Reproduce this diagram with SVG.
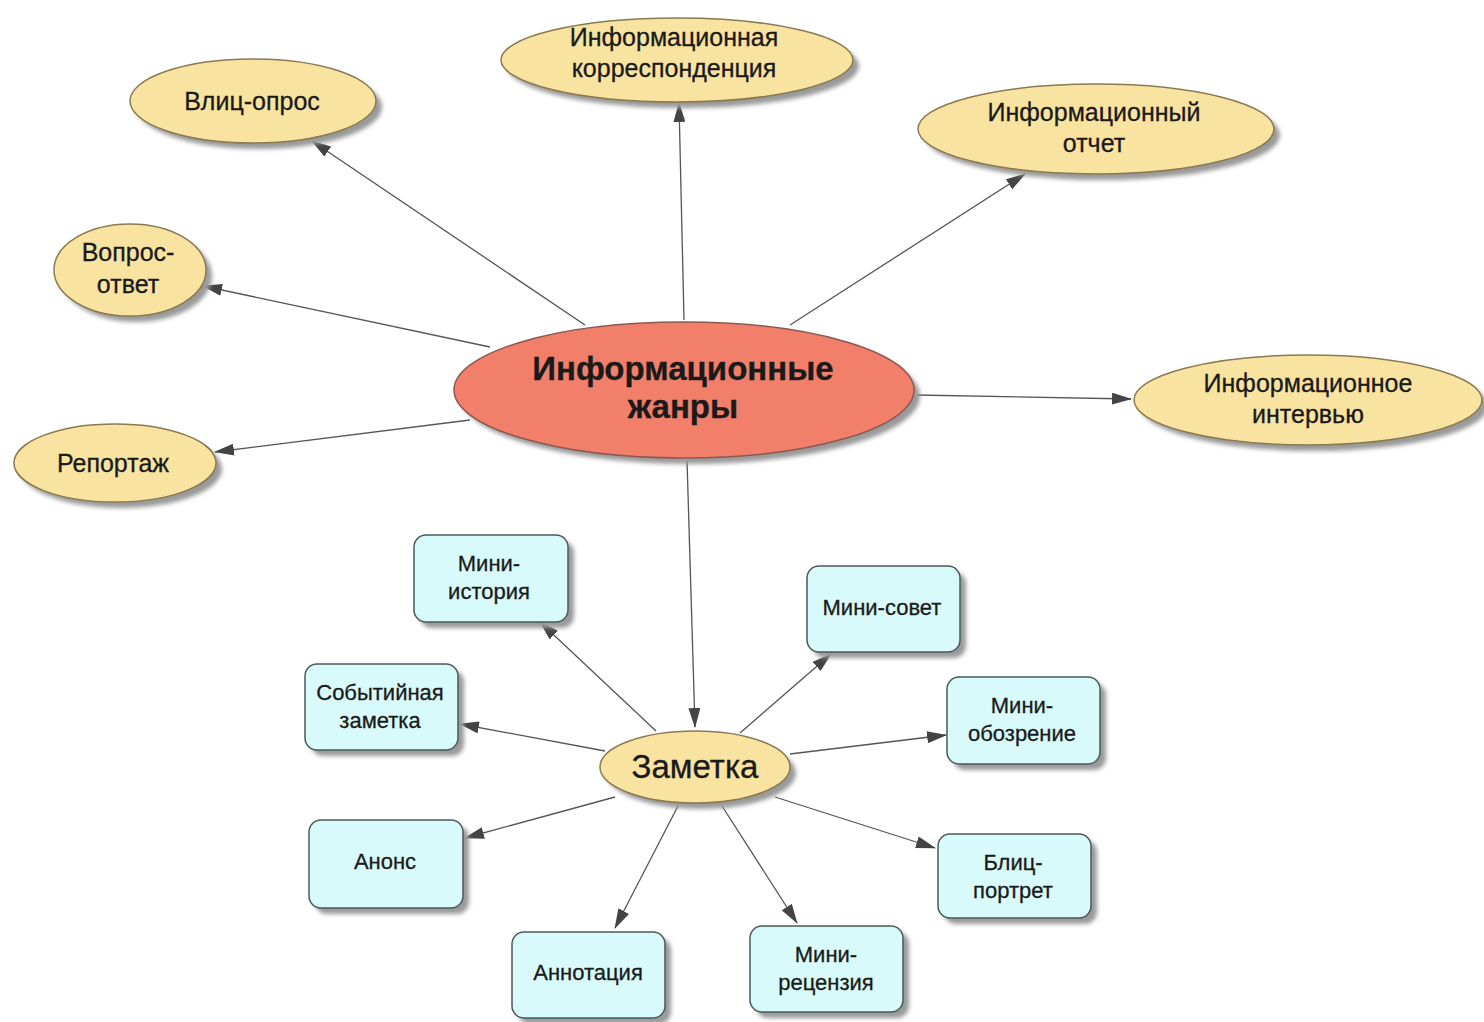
<svg xmlns="http://www.w3.org/2000/svg" width="1484" height="1022" viewBox="0 0 1484 1022">
<defs>
<marker id="ah" markerWidth="20" markerHeight="12" refX="19" refY="6" orient="auto" markerUnits="userSpaceOnUse">
<path d="M0,0 L20,6 L0,12 Z" fill="#444"/>
</marker>
<filter id="blur" x="-10%" y="-10%" width="130%" height="130%"><feGaussianBlur stdDeviation="2"/></filter>
</defs>
<style>
.y{fill:#f9e3a0;stroke:#8a7a50;stroke-width:1.5}
.c{fill:#f17f6a;stroke:#8a5a50;stroke-width:1.5}
.b{fill:#d9fafa;stroke:#4a5a5a;stroke-width:1.5}
.sh{fill:#9a9a9a;filter:url(#blur)}
.t{font-family:"Liberation Sans",Arial,sans-serif;fill:#1a1a1a;text-anchor:middle;stroke:#1a1a1a;stroke-width:0.3}
.t21{font-size:25px}
.t19{font-size:22px}
.conn line{stroke:#555;stroke-width:1.3;marker-end:url(#ah)}
</style>
<rect width="1484" height="1022" fill="#fff"/>
<g id="connectors" class="conn">
<line x1="585" y1="325" x2="312" y2="141"/>
<line x1="684" y1="320" x2="679" y2="103"/>
<line x1="790" y1="325" x2="1025" y2="174"/>
<line x1="490" y1="347" x2="203" y2="286"/>
<line x1="470" y1="420" x2="215" y2="452"/>
<line x1="915" y1="395" x2="1131" y2="399"/>
<line x1="687" y1="460" x2="695" y2="727"/>
<line x1="656" y1="731" x2="540" y2="622"/>
<line x1="740" y1="733" x2="831" y2="654"/>
<line x1="605" y1="751" x2="460" y2="724"/>
<line x1="790" y1="754" x2="946" y2="735"/>
<line x1="615" y1="797" x2="465" y2="838"/>
<line x1="775" y1="797" x2="935" y2="848"/>
<line x1="678" y1="806" x2="615" y2="928"/>
<line x1="722" y1="806" x2="797" y2="923"/>
</g>
<g id="center">
<ellipse class="sh" cx="690" cy="396" rx="230" ry="68"/>
<ellipse class="c" cx="684" cy="390" rx="230" ry="68"/>
<text class="t" x="683" y="380" font-size="33" font-weight="bold">Информационные</text>
<text class="t" x="683" y="418" font-size="33" font-weight="bold">жанры</text>
</g>
<g id="blitz-opros">
<ellipse class="sh" cx="259" cy="107" rx="123" ry="42"/>
<ellipse class="y" cx="253" cy="101" rx="123" ry="42"/>
<text class="t t21" x="252" y="110">Влиц-опрос</text>
</g>
<g id="korrespondenciya">
<ellipse class="sh" cx="683" cy="66" rx="176" ry="42"/>
<ellipse class="y" cx="677" cy="60" rx="176" ry="42"/>
<text class="t t21" x="674" y="46">Информационная</text>
<text class="t t21" x="674" y="77">корреспонденция</text>
</g>
<g id="otchet">
<ellipse class="sh" cx="1102" cy="135" rx="178" ry="45"/>
<ellipse class="y" cx="1096" cy="129" rx="178" ry="45"/>
<text class="t t21" x="1094" y="121">Информационный</text>
<text class="t t21" x="1094" y="152">отчет</text>
</g>
<g id="vopros-otvet">
<ellipse class="sh" cx="136" cy="276" rx="76" ry="46"/>
<ellipse class="y" cx="130" cy="270" rx="76" ry="46"/>
<text class="t t21" x="128" y="261">Вопрос-</text>
<text class="t t21" x="128" y="293">ответ</text>
</g>
<g id="reportazh">
<ellipse class="sh" cx="121" cy="469" rx="101" ry="39"/>
<ellipse class="y" cx="115" cy="463" rx="101" ry="39"/>
<text class="t t21" x="113" y="472">Репортаж</text>
</g>
<g id="intervyu">
<ellipse class="sh" cx="1314" cy="406" rx="174" ry="45"/>
<ellipse class="y" cx="1308" cy="400" rx="174" ry="45"/>
<text class="t t21" x="1308" y="392">Информационное</text>
<text class="t t21" x="1308" y="423">интервью</text>
</g>
<g id="zametka">
<ellipse class="sh" cx="701" cy="773" rx="95" ry="36"/>
<ellipse class="y" cx="695" cy="767" rx="95" ry="36"/>
<text class="t" x="695" y="778" font-size="33">Заметка</text>
</g>
<g id="mini-istoriya">
<rect class="sh" x="420" y="541" width="154" height="87" rx="12"/>
<rect class="b" x="414" y="535" width="154" height="87" rx="12"/>
<text class="t t19" x="489" y="571">Мини-</text>
<text class="t t19" x="489" y="599">история</text>
</g>
<g id="mini-sovet">
<rect class="sh" x="813" y="572" width="153" height="86" rx="12"/>
<rect class="b" x="807" y="566" width="153" height="86" rx="12"/>
<text class="t t19" x="882" y="615">Мини-совет</text>
</g>
<g id="sobytiynaya">
<rect class="sh" x="311" y="670" width="153" height="86" rx="12"/>
<rect class="b" x="305" y="664" width="153" height="86" rx="12"/>
<text class="t t19" x="380" y="700">Событийная</text>
<text class="t t19" x="380" y="728">заметка</text>
</g>
<g id="mini-obozrenie">
<rect class="sh" x="953" y="683" width="153" height="87" rx="12"/>
<rect class="b" x="947" y="677" width="153" height="87" rx="12"/>
<text class="t t19" x="1022" y="713">Мини-</text>
<text class="t t19" x="1022" y="741">обозрение</text>
</g>
<g id="anons">
<rect class="sh" x="315" y="826" width="154" height="88" rx="12"/>
<rect class="b" x="309" y="820" width="154" height="88" rx="12"/>
<text class="t t19" x="385" y="869">Анонс</text>
</g>
<g id="blitz-portret">
<rect class="sh" x="944" y="840" width="153" height="84" rx="12"/>
<rect class="b" x="938" y="834" width="153" height="84" rx="12"/>
<text class="t t19" x="1013" y="870">Блиц-</text>
<text class="t t19" x="1013" y="898">портрет</text>
</g>
<g id="annotaciya">
<rect class="sh" x="518" y="938" width="153" height="86" rx="12"/>
<rect class="b" x="512" y="932" width="153" height="86" rx="12"/>
<text class="t t19" x="588" y="980">Аннотация</text>
</g>
<g id="mini-recenziya">
<rect class="sh" x="756" y="932" width="153" height="86" rx="12"/>
<rect class="b" x="750" y="926" width="153" height="86" rx="12"/>
<text class="t t19" x="826" y="962">Мини-</text>
<text class="t t19" x="826" y="990">рецензия</text>
</g>
</svg>
